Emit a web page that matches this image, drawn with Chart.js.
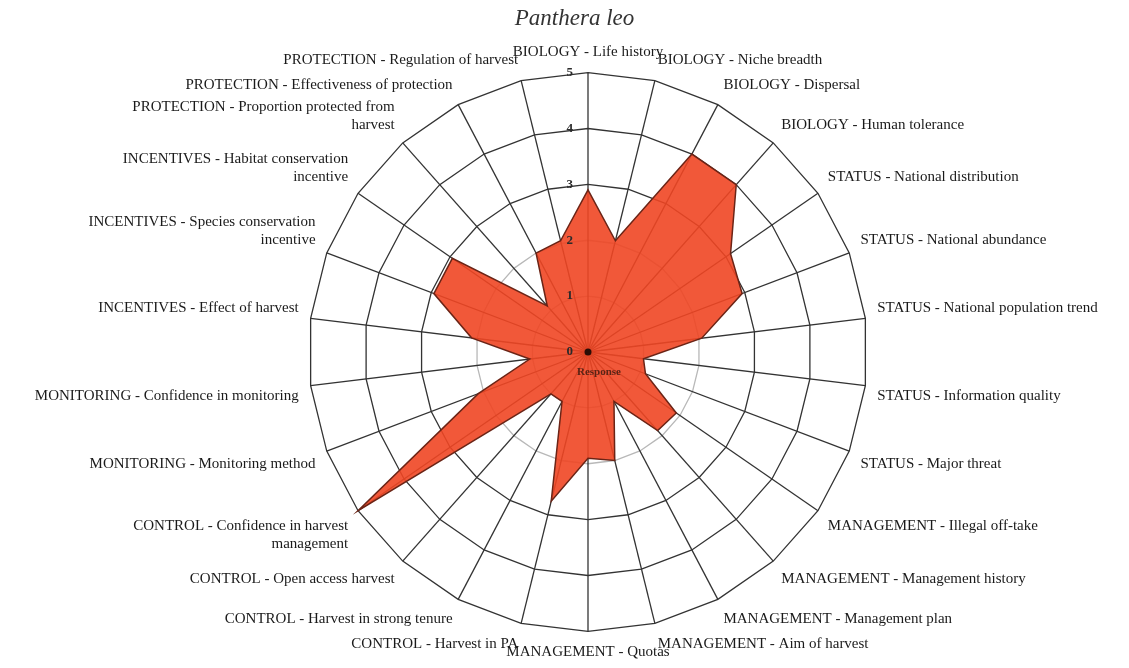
<!DOCTYPE html>
<html>
<head>
<meta charset="utf-8">
<script src="https://cdn.jsdelivr.net/npm/chart.js@4.4.0/dist/chart.umd.min.js"></script>
<style>
    html, body { margin: 0; padding: 0; background: #fff; }
    #wrap { width: 1129px; height: 668px; position: relative; }
</style>
</head>
<body>
<div id="wrap"><canvas id="chartRadar"></canvas></div>
<script>
// Panthera leo - assessment scores per criterion
const categories = [
    'BIOLOGY - Life history',
    'BIOLOGY - Niche breadth',
    'BIOLOGY - Dispersal',
    'BIOLOGY - Human tolerance',
    'STATUS - National distribution',
    'STATUS - National abundance',
    'STATUS - National population trend',
    'STATUS - Information quality',
    'STATUS - Major threat',
    'MANAGEMENT - Illegal off-take',
    'MANAGEMENT - Management history',
    'MANAGEMENT - Management plan',
    'MANAGEMENT - Aim of harvest',
    'MANAGEMENT - Quotas',
    'CONTROL - Harvest in PA',
    'CONTROL - Harvest in strong tenure',
    'CONTROL - Open access harvest',
    ['CONTROL - Confidence in harvest', 'management'],
    'MONITORING - Monitoring method',
    'MONITORING - Confidence in monitoring',
    'INCENTIVES - Effect of harvest',
    ['INCENTIVES - Species conservation', 'incentive'],
    ['INCENTIVES - Habitat conservation', 'incentive'],
    ['PROTECTION - Proportion protected from', 'harvest'],
    'PROTECTION - Effectiveness of protection',
    'PROTECTION - Regulation of harvest'
];

const responseValues = [
    2.9, 2.05, 4.0, 4.0, 3.1, 2.95, 2.05, 1.0, 1.1,
    1.92, 1.88, 1.0, 2.0, 1.9,
    2.75, 1.0, 1.0, 5.0,
    2.1, 1.05,
    2.1, 2.95, 2.95,
    1.1, 2.0, 2.05
];

const tickValues = [0, 1, 2, 3, 4, 5];
const seriesName = 'Response';

// tick numbers sit just left of the top spoke, series name under the centre
const tickLabelPlugin = {
    id: 'tickLabels',
    afterDatasetsDraw(chart) {
        const scale = chart.scales.r;
        const ctx = chart.ctx;
        ctx.save();
        ctx.font = 'bold 13px "Liberation Serif"';
        ctx.fillStyle = '#2b2b2b';
        ctx.textAlign = 'right';
        ctx.textBaseline = 'middle';
        tickValues.forEach(v => {
            const p = scale.getPointPositionForValue(0, v);
            ctx.fillText(String(v), p.x - 15, p.y);
        });
        ctx.fillStyle = '#5a2416';
        ctx.font = 'bold 11px "Liberation Serif"';
        ctx.textAlign = 'left';
        ctx.fillText(seriesName, scale.xCenter - 11, scale.yCenter + 20);
        // centre dot
        ctx.fillStyle = '#2a0d06';
        ctx.beginPath();
        ctx.arc(scale.xCenter, scale.yCenter, 3.5, 0, Math.PI * 2);
        ctx.fill();
        ctx.restore();
    }
};

new Chart(document.getElementById('chartRadar'), {
    type: 'radar',
    data: {
        labels: categories,
        datasets: [{
            label: seriesName,
            data: responseValues,
            backgroundColor: 'rgba(240, 70, 36, 0.9)',
            borderColor: '#6b2416',
            borderWidth: 1.5,
            pointRadius: 0,
            fill: true
        }]
    },
    options: {
        responsive: true,
        maintainAspectRatio: false,
        animation: false,
        layout: { padding: { left: 20, right: 0, top: 0, bottom: 5 } },
        plugins: {
            legend: { display: false },
            tooltip: { enabled: false },
            title: {
                display: true,
                text: 'Panthera leo',
                color: '#333',
                font: { family: '"Liberation Serif"', size: 23, style: 'italic', weight: 'normal' },
                padding: { top: 5, bottom: 10 }
            }
        },
        scales: {
            r: {
                min: 0,
                max: 5,
                ticks: { stepSize: 1, display: false },
                grid: {
                    color: ctx => (ctx.tick && ctx.tick.value <= 2 ? '#b8b8b8' : '#333'),
                    lineWidth: 1.3
                },
                angleLines: { color: '#333', lineWidth: 1.3 },
                pointLabels: {
                    color: '#1a1a1a',
                    padding: 12,
                    font: { family: '"Liberation Serif"', size: 15 }
                }
            }
        }
    },
    plugins: [tickLabelPlugin]
});
</script>
</body>
</html>
